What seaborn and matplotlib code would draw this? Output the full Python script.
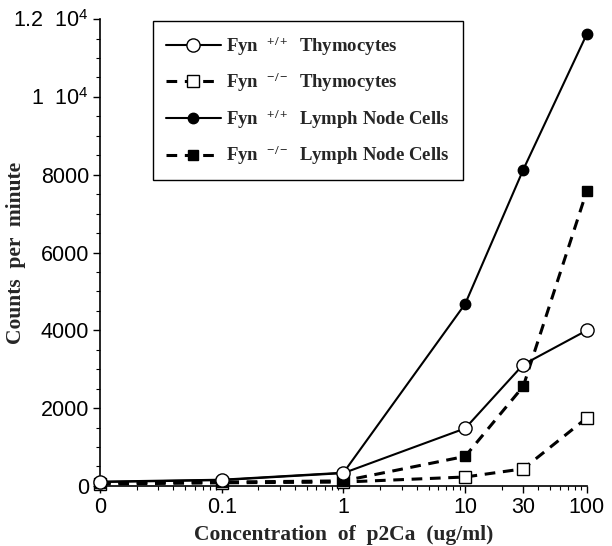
import numpy as np
import pandas as pd
import matplotlib
matplotlib.use("Agg")
import matplotlib.pyplot as plt
import seaborn as sns
from matplotlib.ticker import FixedLocator, FixedFormatter, MultipleLocator, NullFormatter

# ---- data ----
concentration = [0, 0.1, 1, 10, 30, 100]
tick_labels_x = ["0", "0.1", "1", "10", "30", "100"]
fyn_wt_thymocytes = [100, 150, 330, 1480, 3120, 4000]
fyn_ko_thymocytes = [50, 80, 100, 230, 440, 1750]
fyn_wt_lymph = [110, 160, 340, 4680, 8130, 11620]
fyn_ko_lymph = [80, 100, 130, 760, 2560, 7590]
y_ticks = [0, 2000, 4000, 6000, 8000, 10000, 12000]
y_tick_labels = ["0", "2000", "4000", "6000", "8000", "1  10$^4$", "1.2  10$^4$"]

sns.set_theme(style="ticks")
plt.rcParams["font.family"] = ["Liberation Sans", "DejaVu Sans"]
plt.rcParams["mathtext.fontset"] = "custom"
plt.rcParams["mathtext.rm"] = "Liberation Sans"
plt.rcParams["mathtext.bf"] = "Liberation Serif:bold"
plt.rcParams["mathtext.it"] = "Liberation Serif:italic"

# "0" concentration is shown one decade below 0.1 on the log axis
x_plot = [c if c > 0 else 0.01 for c in concentration]

fig = plt.figure(figsize=(6.12, 5.46), dpi=100)
ax = fig.add_axes([0.1634, 0.110, 0.959 - 0.1634, 0.965 - 0.110])

series = [
    ("Fyn  $^{\\mathbf{-/-}}$  Thymocytes", fyn_ko_thymocytes, (0, (3.5, 2.5)), "s", "white", 9, 2.2),
    ("Fyn  $^{\\mathbf{-/-}}$  Lymph Node Cells", fyn_ko_lymph, (0, (3.5, 2.5)), "s", "black", 7, 2.2),
    ("Fyn  $^{\\mathbf{+/+}}$  Lymph Node Cells", fyn_wt_lymph, "-", "o", "black", 7.5, 1.5),
    ("Fyn  $^{\\mathbf{+/+}}$  Thymocytes", fyn_wt_thymocytes, "-", "o", "white", 9.5, 1.5),
]

for i, (label, vals, ls, mk, fc, ms, lw) in enumerate(series):
    df = pd.DataFrame({"x": x_plot, "y": vals})
    sns.lineplot(data=df, x="x", y="y", ax=ax, color="black", linestyle=ls,
                 marker=mk, markersize=ms, markerfacecolor=fc,
                 markeredgecolor="black", markeredgewidth=1.0, linewidth=lw,
                 clip_on=False, zorder=3 + i, label=label)

ax.set_xscale("log")
ax.set_xlim(0.01, 100)
ax.set_ylim(0, 12000)

ax.xaxis.set_major_locator(FixedLocator(x_plot))
ax.xaxis.set_major_formatter(FixedFormatter(tick_labels_x))
minor_x = [m * 10.0 ** e for e in range(-2, 2) for m in range(2, 10)]
minor_x = [v for v in minor_x if abs(v - 30) > 1e-9]
ax.xaxis.set_minor_locator(FixedLocator(minor_x))
ax.xaxis.set_minor_formatter(NullFormatter())

ax.yaxis.set_major_locator(FixedLocator(y_ticks))
ax.yaxis.set_major_formatter(FixedFormatter(y_tick_labels))
ax.yaxis.set_minor_locator(MultipleLocator(500))

ax.tick_params(which="major", direction="out", length=5, width=1, color="black",
               labelsize=15.5, labelcolor="black", pad=3)
ax.tick_params(which="minor", direction="out", length=3, width=0.8, color="black")

for s in ["top", "right"]:
    ax.spines[s].set_visible(False)
for s in ["left", "bottom"]:
    ax.spines[s].set_color("black")
    ax.spines[s].set_linewidth(1.2)

lab_font = dict(family=["Liberation Serif", "DejaVu Serif"], weight="bold", size=15.5)
ax.set_xlabel("Concentration  of  p2Ca  (ug/ml)", fontdict=lab_font, labelpad=5)
ax.set_ylabel("Counts  per  minute", fontdict=lab_font)
ax.yaxis.set_label_coords(-0.152, 0.5)

h, l = ax.get_legend_handles_labels()
order = [3, 0, 2, 1]
leg = ax.legend([h[k] for k in order], [l[k] for k in order],
                loc="upper left", bbox_to_anchor=(0.109, 0.996), borderaxespad=0,
                frameon=True, fancybox=False, edgecolor="black", framealpha=1,
                handlelength=2.9, handletextpad=0.3, labelspacing=0.7,
                borderpad=0.7,
                prop=dict(family=["Liberation Serif", "DejaVu Serif"], weight="bold", size=13.5))
leg.get_frame().set_linewidth(1.0)

fig.savefig("out.png", dpi=100)
